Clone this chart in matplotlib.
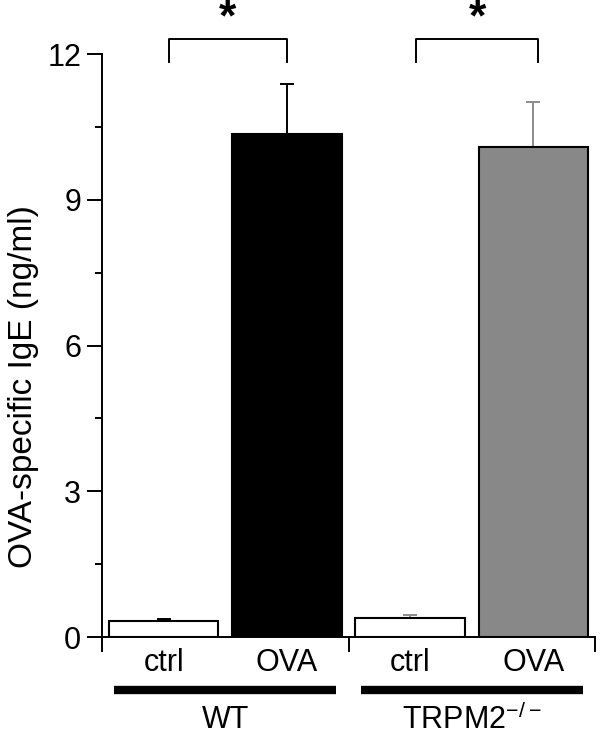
import matplotlib
matplotlib.use('Agg')
import matplotlib.pyplot as plt
from matplotlib.ticker import MultipleLocator

plt.rcParams['font.family'] = ['Liberation Sans', 'DejaVu Sans']
plt.rcParams['mathtext.fontset'] = 'custom'
plt.rcParams['mathtext.rm'] = 'Liberation Sans'

# ─── Data ───
conditions = ['ctrl', 'OVA', 'ctrl', 'OVA']
groups = ['WT', r'TRPM2$^{\mathregular{-/-}}$']
means = [0.33, 10.35, 0.40, 10.09]
errs = [0.05, 1.03, 0.05, 0.92]
fills = ['white', 'black', 'white', '#888888']
err_colors = ['black', 'black', '#8c8c8c', '#8c8c8c']
sig_pairs = [(0.04, 1.0), (2.05, 3.04)]

fig = plt.figure(figsize=(6.0, 7.39), dpi=100)
ax = fig.add_axes([0.17, 0.138, 0.8217, 0.7889])

x = list(range(len(means)))
ax.bar(x, means, width=0.89, color=fills, edgecolor='black', linewidth=1.5, zorder=2)
for xi, m, e, c in zip(x, means, errs, err_colors):
    ax.errorbar(xi, m, yerr=[[0], [e]], color=c, capsize=4.8, capthick=1.4,
                elinewidth=1.4, zorder=1)

ax.set_xlim(-0.5, 3.5)
ax.set_ylim(0, 12)
ax.spines['top'].set_visible(False)
ax.spines['right'].set_visible(False)
for s in ['left', 'bottom']:
    ax.spines[s].set_linewidth(1.4)

ax.yaxis.set_major_locator(MultipleLocator(3))
ax.yaxis.set_minor_locator(MultipleLocator(1.5))
ax.tick_params(axis='y', which='major', length=11, width=1.4, labelsize=22, pad=4)
ax.tick_params(axis='y', which='minor', length=5, width=1.4)
ax.set_xticks([-0.5, 1.5, 3.5])
ax.set_xticklabels([])
ax.tick_params(axis='x', which='major', length=11, width=1.4)
ax.set_ylabel('OVA-specific IgE (ng/ml)', fontsize=24)
ax.yaxis.set_label_coords(-0.128, 0.43)

xt = ax.get_xaxis_transform()
for xi, lbl in zip(x, conditions):
    ax.text(xi, -0.045, lbl, transform=xt, ha='center', va='center', fontsize=22)
for gi, g in enumerate(groups):
    x0 = 2 * gi - 0.4
    x1 = 2 * gi + 1.4
    ax.plot([x0, x1], [-0.091, -0.091], transform=xt, color='black', lw=6,
            solid_capstyle='butt', clip_on=False)
    ax.text(2 * gi + 0.5, -0.142, g, transform=xt, ha='center', va='center', fontsize=22)

for (a, b) in sig_pairs:
    ax.plot([a, a, b, b], [11.84, 12.31, 12.31, 11.84], color='black', lw=1.4, clip_on=False)
    ax.text((a + b) / 2, 12.72, '*', ha='center', va='center', fontsize=32,
            fontweight='bold', clip_on=False)

fig.savefig('out.png', dpi=100)
